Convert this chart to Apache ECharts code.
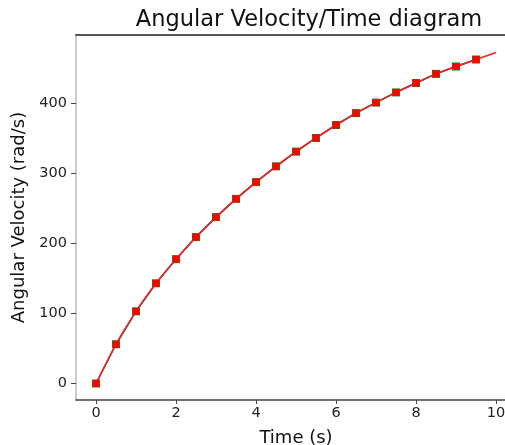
<!DOCTYPE html>
<html>
<head>
<meta charset="utf-8">
<script src="https://cdn.jsdelivr.net/npm/echarts@6/dist/echarts.min.js"></script>
<style>
  html, body { margin: 0; padding: 0; background: #fff; }
  #chart { width: 505px; height: 445px; }
</style>
</head>
<body>
<div id="chart"></div>
<script>
// sample times (s) and measured angular velocity (rad/s)
var times = [0, 0.5, 1, 1.5, 2, 2.5, 3, 3.5, 4, 4.5, 5, 5.5, 6, 6.5, 7, 7.5, 8, 8.5, 9, 9.5];
var omega = [0, 56, 103, 143, 177.5, 209, 237.5, 263.5, 287.5, 310, 331, 350.5, 369, 386, 401, 415.5, 429, 442, 452.5, 462.5];
// the red curve runs on to t = 10 without a marker
var endTime = 10;
var endOmega = 472.5;
var xTicks = [0, 2, 4, 6, 8, 10];
var yTicks = [0, 100, 200, 300, 400];

var font = 'DejaVu Sans';
var chart = echarts.init(document.getElementById('chart'));

function pairs(xs, ys) {
    return xs.map(function (x, i) { return [x, ys[i]]; });
}

var redData = pairs(times, omega);
redData.push({ value: [endTime, endOmega], symbol: 'none' });

var option = {
    animation: false,
    title: {
        text: 'Angular Velocity/Time diagram',
        left: 304,
        top: 4,
        textAlign: 'center',
        textStyle: { fontFamily: font, fontSize: 22.5, fontWeight: 'normal', color: '#111' }
    },
    // the right spine lies outside the picture, as in the reference
    grid: { left: 76, top: 35, right: -11, bottom: 45, outerBoundsMode: 'none' },
    xAxis: [{
        type: 'value',
        min: -0.5,
        max: 10.5,
        name: 'Time (s)',
        nameLocation: 'middle',
        nameGap: 29,
        nameTextStyle: { fontFamily: font, fontSize: 18, color: '#111' },
        axisLine: { show: true, onZero: false, lineStyle: { color: '#444', width: 1.5 } },
        axisTick: { show: true, length: 4, customValues: xTicks, lineStyle: { color: '#444' } },
        axisLabel: { customValues: xTicks, fontFamily: font, fontSize: 14.5, color: '#222', margin: 6 },
        splitLine: { show: false }
    }, {
        type: 'value',
        position: 'top',
        min: -0.5,
        max: 10.5,
        axisLine: { show: true, onZero: false, lineStyle: { color: '#555', width: 2 } },
        axisTick: { show: false },
        axisLabel: { show: false },
        splitLine: { show: false }
    }],
    yAxis: {
        type: 'value',
        min: -23.6,
        max: 497.5,
        name: 'Angular Velocity (rad/s)',
        nameLocation: 'middle',
        nameGap: 46,
        nameTextStyle: { fontFamily: font, fontSize: 18, color: '#111' },
        axisLine: { show: true, onZero: false, lineStyle: { color: '#ccc', width: 2 } },
        axisTick: { show: true, length: 5, customValues: yTicks, lineStyle: { color: '#444' } },
        axisLabel: { customValues: yTicks, fontFamily: font, fontSize: 14.5, color: '#222', margin: 9 },
        splitLine: { show: false }
    },
    series: [
        {
            type: 'line',
            data: pairs(times, omega),
            symbol: 'none',
            lineStyle: { color: '#2a2aff', width: 1.5 },
            z: 1
        },
        {
            type: 'line',
            data: pairs(times, omega),
            symbol: 'rect',
            symbolSize: 8,
            itemStyle: { color: '#1a8a1a' },
            lineStyle: { color: '#1a8a1a', width: 1.5 },
            z: 2
        },
        {
            type: 'line',
            data: redData,
            smooth: 0.3,
            symbol: 'rect',
            symbolSize: 7,
            itemStyle: { color: '#ff0000' },
            lineStyle: { color: '#ff2020', width: 1.5 },
            z: 3
        }
    ]
};

chart.setOption(option);
</script>
</body>
</html>
